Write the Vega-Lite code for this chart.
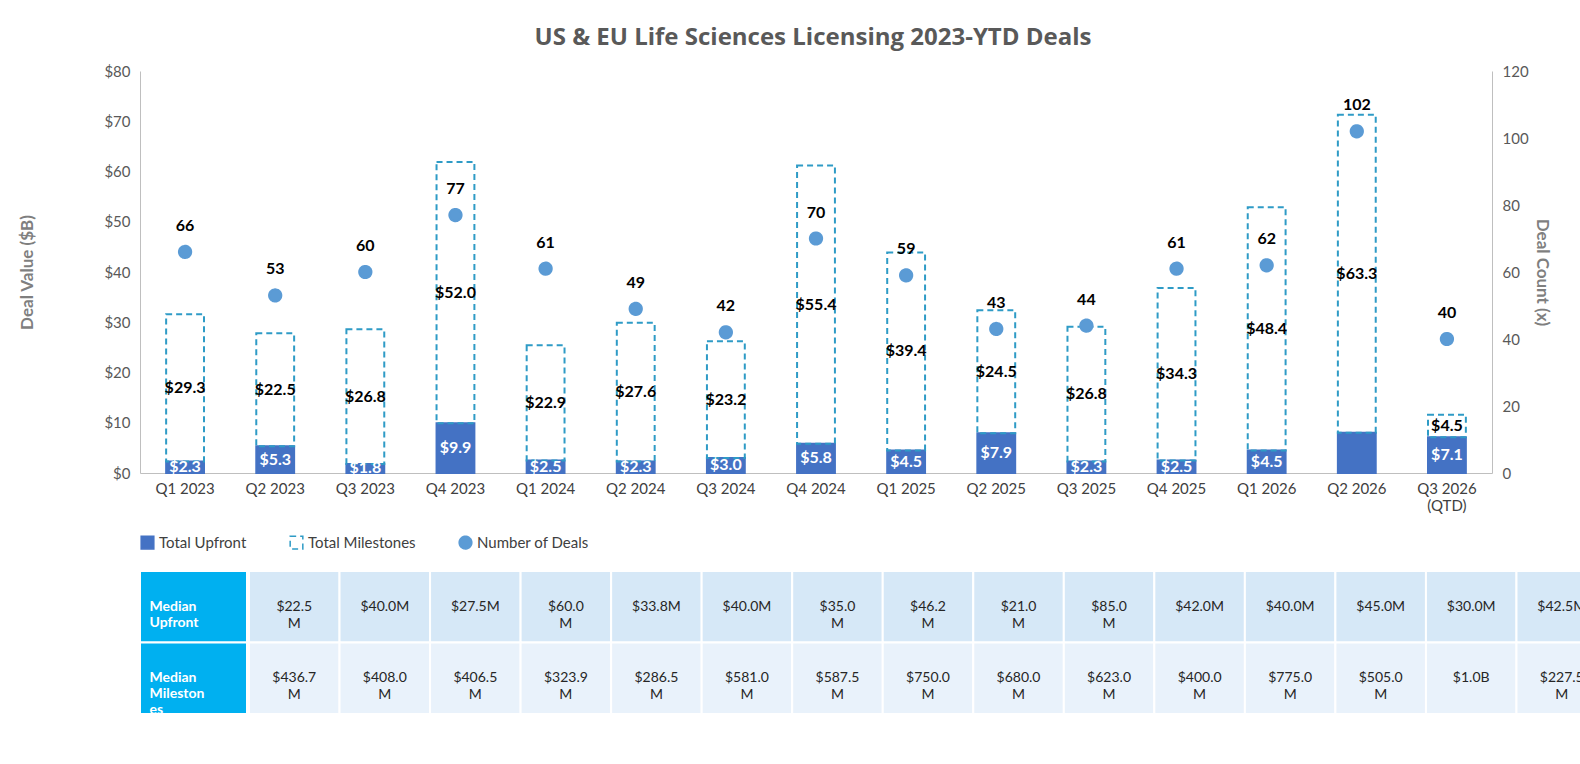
{
"$schema":"https://vega.github.io/schema/vega-lite/v6.json",
"padding":{"left":18,"top":26,"right":30,"bottom":5},
"background":"white",
"config":{"font":"Lato","view":{"stroke":null},
 "legend":{"orient":"bottom","direction":"horizontal","title":null,"labelFontSize":15,"labelColor":"#404040","symbolSize":160,"columnPadding":40,"offset":22}},
"title":{"text":"US & EU Life Sciences Licensing 2023-YTD Deals","fontSize":24,"color":"#595959","font":"Open Sans","fontWeight":"bold","anchor":"middle","offset":14},
"datasets":{
 "main":[
  {"quarter":"Q1 2023","upfront":2.3,"milestones":29.3,"deals":66},
  {"quarter":"Q2 2023","upfront":5.3,"milestones":22.5,"deals":53},
  {"quarter":"Q3 2023","upfront":1.8,"milestones":26.8,"deals":60},
  {"quarter":"Q4 2023","upfront":9.9,"milestones":52.0,"deals":77},
  {"quarter":"Q1 2024","upfront":2.5,"milestones":22.9,"deals":61},
  {"quarter":"Q2 2024","upfront":2.3,"milestones":27.6,"deals":49},
  {"quarter":"Q3 2024","upfront":3.0,"milestones":23.2,"deals":42},
  {"quarter":"Q4 2024","upfront":5.8,"milestones":55.4,"deals":70},
  {"quarter":"Q1 2025","upfront":4.5,"milestones":39.4,"deals":59},
  {"quarter":"Q2 2025","upfront":7.9,"milestones":24.5,"deals":43},
  {"quarter":"Q3 2025","upfront":2.3,"milestones":26.8,"deals":44},
  {"quarter":"Q4 2025","upfront":2.5,"milestones":34.3,"deals":61},
  {"quarter":"Q1 2026","upfront":4.5,"milestones":48.4,"deals":62},
  {"quarter":"Q2 2026","upfront":8.0,"milestones":63.3,"deals":102},
  {"quarter":"Q3 2026|(QTD)","upfront":7.1,"milestones":4.5,"deals":40}
 ],
 "hdr":[{"row":"Median Upfront","label":"Median\nUpfront"},{"row":"Median Milestones","label":"Median\nMileston\nes"}],
 "tbl":[
  {"quarter":"Q1 2023","row":"Median Upfront","val":"$22.5\nM"},
  {"quarter":"Q2 2023","row":"Median Upfront","val":"$40.0M"},
  {"quarter":"Q3 2023","row":"Median Upfront","val":"$27.5M"},
  {"quarter":"Q4 2023","row":"Median Upfront","val":"$60.0\nM"},
  {"quarter":"Q1 2024","row":"Median Upfront","val":"$33.8M"},
  {"quarter":"Q2 2024","row":"Median Upfront","val":"$40.0M"},
  {"quarter":"Q3 2024","row":"Median Upfront","val":"$35.0\nM"},
  {"quarter":"Q4 2024","row":"Median Upfront","val":"$46.2\nM"},
  {"quarter":"Q1 2025","row":"Median Upfront","val":"$21.0\nM"},
  {"quarter":"Q2 2025","row":"Median Upfront","val":"$85.0\nM"},
  {"quarter":"Q3 2025","row":"Median Upfront","val":"$42.0M"},
  {"quarter":"Q4 2025","row":"Median Upfront","val":"$40.0M"},
  {"quarter":"Q1 2026","row":"Median Upfront","val":"$45.0M"},
  {"quarter":"Q2 2026","row":"Median Upfront","val":"$30.0M"},
  {"quarter":"Q3 2026|(QTD)","row":"Median Upfront","val":"$42.5M"},
  {"quarter":"Q1 2023","row":"Median Milestones","val":"$436.7\nM"},
  {"quarter":"Q2 2023","row":"Median Milestones","val":"$408.0\nM"},
  {"quarter":"Q3 2023","row":"Median Milestones","val":"$406.5\nM"},
  {"quarter":"Q4 2023","row":"Median Milestones","val":"$323.9\nM"},
  {"quarter":"Q1 2024","row":"Median Milestones","val":"$286.5\nM"},
  {"quarter":"Q2 2024","row":"Median Milestones","val":"$581.0\nM"},
  {"quarter":"Q3 2024","row":"Median Milestones","val":"$587.5\nM"},
  {"quarter":"Q4 2024","row":"Median Milestones","val":"$750.0\nM"},
  {"quarter":"Q1 2025","row":"Median Milestones","val":"$680.0\nM"},
  {"quarter":"Q2 2025","row":"Median Milestones","val":"$623.0\nM"},
  {"quarter":"Q3 2025","row":"Median Milestones","val":"$400.0\nM"},
  {"quarter":"Q4 2025","row":"Median Milestones","val":"$775.0\nM"},
  {"quarter":"Q1 2026","row":"Median Milestones","val":"$505.0\nM"},
  {"quarter":"Q2 2026","row":"Median Milestones","val":"$1.0B"},
  {"quarter":"Q3 2026|(QTD)","row":"Median Milestones","val":"$227.5\nM"}
 ]
},
"align":"none",
"resolve":{"legend":{"fill":"independent","stroke":"independent","strokeDash":"independent","shape":"independent"}},
"vconcat":[
 {
  "width":1352,"height":402,
  "data":{"name":"main"},
  "resolve":{"scale":{"y":"independent"}},
  "encoding":{"x":{"field":"quarter","type":"nominal","sort":null,"title":null,
     "scale":{"paddingInner":0.58,"paddingOuter":0.29},
     "axis":{"labelExpr":"split(datum.label,'|')","labelFontSize":15,"labelColor":"#404040","ticks":false,"domainColor":"#bfbfbf","labelPadding":8,"labelAngle":0}}},
  "layer":[
   {"transform":[{"fold":["upfront","milestones"],"as":["k","value"]},
      {"calculate":"datum.k=='upfront'?'Total Upfront':'Total Milestones'","as":"series"}],
    "mark":{"type":"bar","strokeWidth":2},
    "encoding":{
     "y":{"field":"value","type":"quantitative","stack":"zero","scale":{"domain":[0,80]},
        "axis":{"values":[0,10,20,30,40,50,60,70,80],"format":"$.0f","grid":false,"ticks":false,"domainColor":"#bfbfbf","labelFontSize":15,"labelColor":"#595959","title":"Deal Value ($B)","titleFontSize":17,"titleColor":"#7f7f7f","titleFontWeight":"bold","minExtent":100,"labelPadding":10}},
     "order":{"field":"series","sort":"descending"},
     "fill":{"field":"series","type":"nominal","scale":{"domain":["Total Upfront","Total Milestones","Number of Deals"],"range":["#4472C4","transparent","#5B9BD5"]}},
     "stroke":{"field":"series","type":"nominal","scale":{"domain":["Total Upfront","Total Milestones","Number of Deals"],"range":["#4472C4","#2E9BC6","#5B9BD5"]}},
     "strokeDash":{"field":"series","type":"nominal","scale":{"domain":["Total Upfront","Total Milestones","Number of Deals"],"range":[[1,0],[6,4],[1,0]]}}
    }},
   {"transform":[{"calculate":"'Number of Deals'","as":"series"}],
    "mark":{"type":"point","filled":true,"size":150,"opacity":1},
    "encoding":{
     "y":{"field":"deals","type":"quantitative","scale":{"domain":[0,120]},
        "axis":{"orient":"right","values":[0,20,40,60,80,100,120],"grid":false,"ticks":false,"domainColor":"#bfbfbf","labelFontSize":15,"labelColor":"#595959","title":"Deal Count (x)","titleFontSize":17,"titleColor":"#7f7f7f","titleFontWeight":"bold","labelPadding":10}},
     "fill":{"field":"series","type":"nominal"},
     "stroke":{"field":"series","type":"nominal"},
     "strokeDash":{"field":"series","type":"nominal"},
     "shape":{"field":"series","type":"nominal","scale":{"domain":["Total Upfront","Total Milestones","Number of Deals"],"range":["square","square","circle"]}}
    }},
   {"mark":{"type":"text","dy":-26,"fontSize":16,"fontWeight":"bold","color":"black"},
    "encoding":{"y":{"field":"deals","type":"quantitative","scale":{"domain":[0,120]},"axis":null},"text":{"field":"deals"}}},
   {"transform":[{"fold":["upfront","milestones"],"as":["k","value"]},
      {"stack":"value","groupby":["quarter"],"as":["y0","y1"],"sort":[{"field":"k","order":"descending"}]},
      {"calculate":"(datum.y0+datum.y1)/2","as":"mid"},
      {"filter":"!(datum.quarter=='Q2 2026' && datum.k=='upfront')"}],
    "mark":{"type":"text","fontSize":16,"fontWeight":"bold"},
    "encoding":{"y":{"field":"mid","type":"quantitative","scale":{"domain":[0,80]},"axis":null},
     "text":{"field":"value","type":"quantitative","format":"$.1f"},
     "color":{"condition":{"test":"datum.k=='upfront'","value":"white"},"value":"black"}}}
  ]
 },
 {
  "spacing":0,
  "hconcat":[
   {"width":107,"height":143,"data":{"name":"hdr"},
    "encoding":{"y":{"field":"row","type":"nominal","sort":["Median Upfront","Median Milestones"],"axis":null,"scale":{"paddingInner":0,"paddingOuter":0}}},
    "layer":[
     {"mark":{"type":"rect","fill":"#00B0F0","stroke":"white","strokeWidth":2},"encoding":{}},
     {"mark":{"type":"text","color":"white","fontWeight":"bold","fontSize":14,"lineBreak":"\n","lineHeight":16,"align":"left","dx":-44},"encoding":{"text":{"field":"label"}}}
    ]},
   {"width":1358,"height":143,"data":{"name":"tbl"},
    "encoding":{"x":{"field":"quarter","type":"nominal","sort":null,"axis":null,"scale":{"paddingInner":0,"paddingOuter":0}},
     "y":{"field":"row","type":"nominal","sort":["Median Upfront","Median Milestones"],"axis":null,"scale":{"paddingInner":0,"paddingOuter":0}}},
    "layer":[
     {"mark":{"type":"rect","stroke":"white","strokeWidth":2},
      "encoding":{"fill":{"condition":{"test":"datum.row=='Median Upfront'","value":"#D6E8F7"},"value":"#E9F2FB"}}},
     {"mark":{"type":"text","fontSize":14,"color":"#262626","lineBreak":"\n","lineHeight":17},"encoding":{"text":{"field":"val"}}}
    ]}
  ]
 }
],
"spacing":18
}
